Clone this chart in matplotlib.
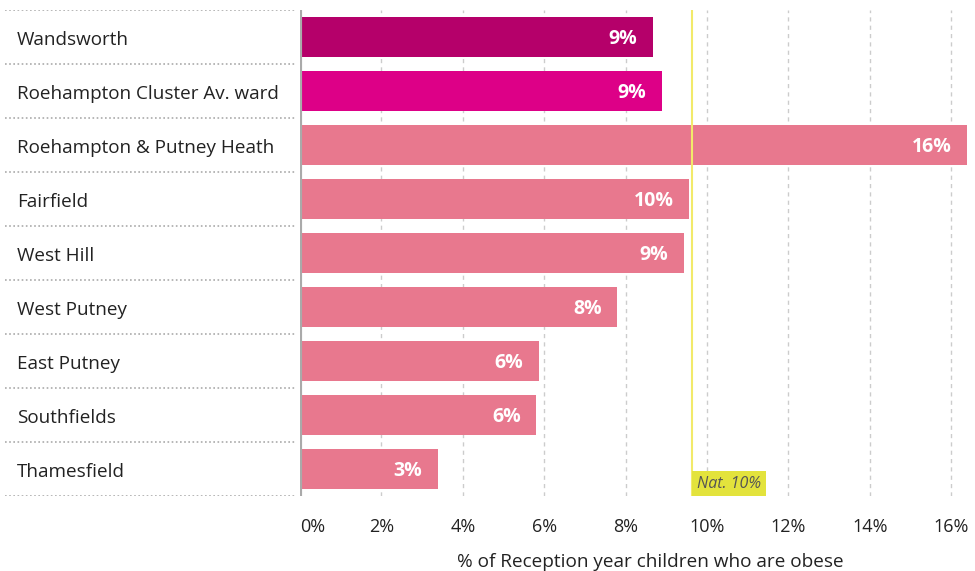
import matplotlib.pyplot as plt

plt.rcParams['font.family'] = ['Open Sans', 'DejaVu Sans']

# Datos
areas = ["Wandsworth", "Roehampton Cluster Av. ward", "Roehampton & Putney Heath",
         "Fairfield", "West Hill", "West Putney", "East Putney", "Southfields",
         "Thamesfield"]
valores = [8.67, 8.89, 16.38, 9.55, 9.43, 7.80, 5.86, 5.81, 3.38]
colores = ["#b5006a", "#dd0087", "#e8788e", "#e8788e", "#e8788e", "#e8788e",
           "#e8788e", "#e8788e", "#e8788e"]
nacional = 9.63
etiqueta_nacional = "Nat. 10%"
ticks = [0, 2, 4, 6, 8, 10, 12, 14, 16]
xlabel = "% of Reception year children who are obese"

W, H = 975, 571
fig = plt.figure(figsize=(W / 100, H / 100), dpi=100)

# ejes principales (barras)
x0, x1, ytop, ybot = 300, 975, 10, 496
ax = fig.add_axes([x0 / W, 1 - ybot / H, (x1 - x0) / W, (ybot - ytop) / H])
# ejes de etiquetas (izquierda)
axl = fig.add_axes([5 / W, 1 - ybot / H, (296 - 5) / W, (ybot - ytop) / H])

n = len(areas)
pos = list(range(n))
ax.set_xlim(0, 675 / 40.7)
ax.set_ylim(n - 0.5, -0.5)
axl.set_xlim(0, 1)
axl.set_ylim(n - 0.5, -0.5)

for t in ticks:
    ax.axvline(t, color="#cccccc", lw=1, ls=(0, (3, 3)), zorder=0)

ax.barh(pos, valores, height=0.74, color=colores, zorder=2)

for i, v in enumerate(valores):
    ax.annotate(f"{round(v)}%", (v, i + 0.04), xytext=(-11, 0), textcoords="offset points",
                ha="right", va="center", color="white", fontsize=14,
                fontweight="bold", zorder=3)

# linea nacional
ax.axvline(nacional, color="#f2ea6a", lw=1.5, zorder=4)
ax.text(nacional + 0.12, n - 0.5 - 0.08, etiqueta_nacional, ha="left", va="bottom",
        fontsize=11.5, style="italic", color="#555555", zorder=5,
        bbox=dict(boxstyle="square,pad=0.3", fc="#e3e33c", ec="none"))

# eje vertical gris
ax.axvline(0, color="#aaaaaa", lw=3, zorder=5)

ax.set_xticks(ticks)
ax.set_xticklabels([f"{t}%" for t in ticks], fontsize=13, color="#222222")
ax.get_xticklabels()[0].set_horizontalalignment("left")
ax.tick_params(axis="x", length=0, pad=16)
ax.set_yticks([])
for s in ax.spines.values():
    s.set_visible(False)
ax.set_xlabel(xlabel, fontsize=13.7, color="#222222", labelpad=12)
ax.xaxis.label.set_x(0.519)

# etiquetas de categorias
for i, a in enumerate(areas):
    axl.text(12 / 291, i + 0.05, a, ha="left", va="center", fontsize=13.6, color="#222222")
for b in [p - 0.5 for p in pos] + [n - 0.5]:
    axl.axhline(b, color="#aaaaaa", lw=1.2, ls=(0, (1, 1.5)))
axl.axis("off")

fig.savefig("out.png", dpi=100)
